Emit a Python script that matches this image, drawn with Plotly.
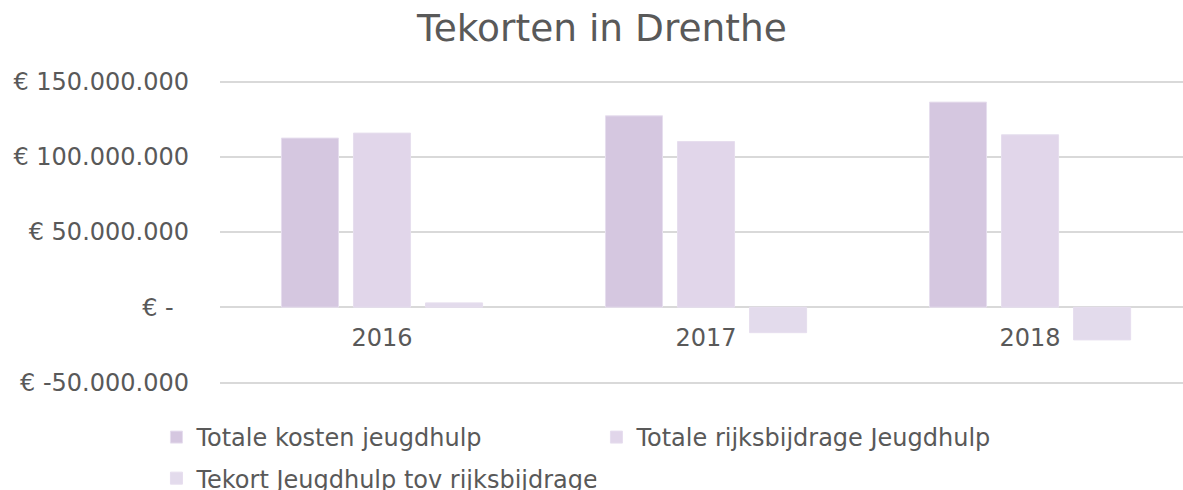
import plotly.graph_objects as go

years = ["2016", "2017", "2018"]
kosten = [112_400_000, 127_200_000, 136_300_000]
rijksbijdrage = [115_700_000, 110_100_000, 114_600_000]
tekort = [2_900_000, -16_900_000, -21_700_000]

series_names = ["Totale kosten jeugdhulp", "Totale rijksbijdrage Jeugdhulp",
                "Tekort Jeugdhulp tov rijksbijdrage"]
series_colors = ["#D5C7E0", "#E1D6EA", "#E3DBEC"]
series_legends = ["legend", "legend", "legend2"]

y_tickvals = [-50_000_000, 0, 50_000_000, 100_000_000, 150_000_000]
y_ticktext = ["€ -50.000.000", "€ -\u00a0\u00a0", "€ 50.000.000", "€ 100.000.000", "€ 150.000.000"]

TXT = "#595959"
FONT = "DejaVu Sans, Verdana, sans-serif"

W, H = 1183, 490

fig = go.Figure()
for name, vals, col, lg in zip(series_names, [kosten, rijksbijdrage, tekort],
                               series_colors, series_legends):
    fig.add_trace(go.Bar(x=years, y=vals, name=name, legend=lg,
                         marker=dict(color=col, line=dict(color="#E6DEEE", width=1))))

legend_common = dict(orientation="h", xanchor="left", yanchor="top", entrywidth=395,
                     font=dict(size=24, color=TXT, family=FONT),
                     bgcolor="rgba(0,0,0,0)", traceorder="normal")

fig.update_layout(
    width=W, height=H,
    barmode="group", bargap=0.333, bargroupgap=0.208,
    paper_bgcolor="white", plot_bgcolor="white",
    margin=dict(l=220, r=0, t=80, b=106, autoexpand=False),
    font=dict(family=FONT, color=TXT, size=24),
    title=dict(text="Tekorten in Drenthe", x=602 / W, xanchor="center",
               y=1 - 28 / H, yanchor="middle", yref="container",
               font=dict(size=37.5, color=TXT, family=FONT)),
    showlegend=True,
    legend=dict(x=-0.066, y=-0.102, **legend_common),
    legend2=dict(x=-0.066, y=-0.237, **legend_common),
)
fig.update_xaxes(type="category", range=[-0.5, 2.472], showgrid=False, showline=False,
                 anchor="free", position=51 / 202, ticks="", ticklabelstandoff=14,
                 tickfont=dict(size=24, color=TXT))
fig.update_yaxes(range=[-51_000_000, 151_000_000], tickvals=y_tickvals, ticktext=y_ticktext,
                 showgrid=True, gridcolor="#D9D9D9", gridwidth=1.5,
                 zeroline=True, zerolinecolor="#D9D9D9", zerolinewidth=2,
                 showline=False, ticks="", ticklabelstandoff=30,
                 tickfont=dict(size=24, color=TXT))

fig.write_html("out.html", config={"displayModeBar": False},
               post_script="document.body.style.margin='0';document.body.style.overflow='hidden';")
